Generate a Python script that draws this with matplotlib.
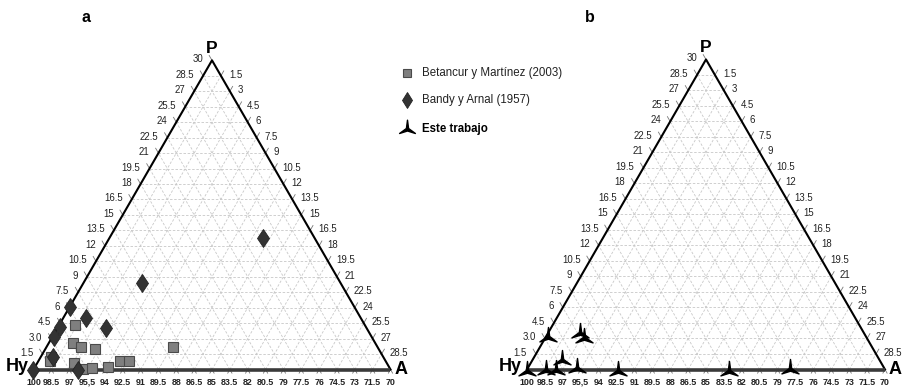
import numpy as np
import matplotlib
matplotlib.use("Agg")
import matplotlib.pyplot as plt
from matplotlib.path import Path

plt.rcParams['font.family'] = ['Liberation Sans', 'DejaVu Sans']

# ---- data (P, A in %; Hy = 100 - P - A) ----
betancur_P = [4.3, 2.6, 2.2, 2.0, 2.2, 1.2, 0.8, 0.6, 0.05, 0.15, 0.25, 0.8, 0.85]
betancur_A = [1.3, 2.0, 2.9, 4.2, 10.6, 0.9, 0.95, 3.1, 4.1, 4.8, 6.1, 6.9, 7.6]

bandy_P = [12.8, 8.4, 6.1, 5.0, 4.1, 4.0, 3.2, 1.2, 0.0, 0.0]
bandy_A = [12.9, 4.9, 0.05, 1.9, 0.15, 4.1, 0.1, 1.0, 3.7, 0.0]

este_P = [3.2, 3.6, 3.1, 1.0, 0.0, 0.05, 0.05, 0.25, 0.0, 0.0, 0.15]
este_A = [0.2, 2.6, 3.2, 2.4, 0.0, 1.6, 2.4, 4.1, 7.6, 16.9, 22.0]

bottom_labels = ['100', '98.5', '97', '95,5', '94', '92.5', '91', '89.5', '88', '86.5',
                 '85', '83.5', '82', '80.5', '79', '77.5', '76', '74.5', '73', '71.5', '70']
left_labels = ['1.5', '3.0', '4.5', '6', '7.5', '9', '10.5', '12', '13.5', '15', '16.5',
               '18', '19.5', '21', '22.5', '24', '25.5', '27', '28.5', '30']
right_labels = ['1.5', '3', '4.5', '6', '7.5', '9', '10.5', '12', '13.5', '15', '16.5',
                '18', '19.5', '21', '22.5', '24', '25.5', '27', '28.5']

RANGE = 30.0
NDIV = 20

fig = plt.figure(figsize=(9.03, 3.87), dpi=100)
ax = fig.add_axes([0, 0, 1, 1])
ax.set_xlim(0, 903)
ax.set_ylim(387, 0)
ax.axis('off')

S3 = np.sqrt(3) / 2


def make_tern(ox, oy, side):
    def f(P, A):
        P = np.asarray(P, float) / RANGE
        A = np.asarray(A, float) / RANGE
        x = ox + side * (A + P / 2)
        y = oy - side * S3 * P
        return x, y
    return f


# Este trabajo marker
este_marker = Path(
    [(0, 1.0), (-0.13, 0.0), (-0.95, -0.6), (0, -0.3), (0.95, -0.6), (0.13, 0.0), (0, 1.0)],
    [Path.MOVETO, Path.LINETO, Path.LINETO, Path.LINETO, Path.LINETO, Path.LINETO, Path.CLOSEPOLY])


def draw_triangle(ox, oy, side, label, label_x):
    T = make_tern(ox, oy, side)
    grid_kw = dict(color='#c8c8c8', lw=0.6, ls=(0, (3, 2)), zorder=1)
    step = RANGE / NDIV
    for i in range(1, NDIV):
        v = i * step
        x, y = T([v, v], [0, RANGE - v]); ax.plot(x, y, **grid_kw)
        x, y = T([0, RANGE - v], [v, v]); ax.plot(x, y, **grid_kw)
        x, y = T([0, v], [v, 0]); ax.plot(x, y, **grid_kw)
    tick_kw = dict(color='#777777', lw=0.6, zorder=1)
    L = 7 / side * RANGE
    for i in range(1, NDIV + 1):
        v = i * step
        x, y = T([v, v + L * 0.8], [0, -L * 0.8]); ax.plot(x, y, **tick_kw)
        x0, y0 = T(v, 0)
        ax.text(x0 - 9, y0 - 1, left_labels[i - 1], ha='right', va='center', fontsize=6.9, color='#222222')
    for i in range(1, NDIV):
        v = i * step
        x, y = T([RANGE - v, RANGE - v + L * 0.8], [v, v]); ax.plot(x, y, **tick_kw)
        x0, y0 = T(RANGE - v, v)
        ax.text(x0 + 8, y0 - 1, right_labels[i - 1], ha='left', va='center', fontsize=6.9, color='#222222')
    for i in range(0, NDIV + 1):
        v = i * step
        x, y = T([0, -L * 0.6], [v, v + L * 0.6]); ax.plot(x, y, **tick_kw)
        x, y = T([0, -L * 0.6], [v, v]); ax.plot(x, y, **tick_kw)
        x0, y0 = T(0, v)
        ax.text(x0, y0 + 15.5, bottom_labels[i], ha='center', va='baseline', fontsize=6.4,
                fontweight='bold', color='#222222')
    xh, yh = T(0, 0); xa, ya = T(0, RANGE); xp, yp = T(RANGE, 0)
    ax.plot([xh, xp, xa], [yh, yp, ya], color='black', lw=1.5, zorder=3)
    ax.plot([xh, xa], [yh, ya], color='#3a3a3a', lw=2.6, zorder=3, solid_capstyle='butt')
    ax.text(xp, yp - 4, 'P', ha='center', va='bottom', fontsize=12.5, fontweight='bold')
    ax.text(xh - 5, yh - 3, 'Hy', ha='right', va='center', fontsize=13, fontweight='bold')
    ax.text(xa + 4, ya, 'A', ha='left', va='center', fontsize=13, fontweight='bold')
    ax.text(label_x, 18, label, ha='center', va='center', fontsize=11.5, fontweight='bold')
    return T


Ta = draw_triangle(33.5, 369.5, 357, 'a', 86)
Tb = draw_triangle(527, 369.5, 358, 'b', 590)

x, y = Ta(betancur_P, betancur_A)
ax.plot(x, y, ls='none', marker='s', ms=7.2, mfc='#7f7f7f', mec='#4a4a4a', mew=0.8, zorder=5)
x, y = Ta(bandy_P, bandy_A)
ax.plot(x, y, ls='none', marker='d', ms=9.5, mfc='#333333', mec='#222222', mew=0.6, zorder=6)
x, y = Tb(este_P, este_A)
ax.plot(x, y, ls='none', marker=este_marker, ms=13, mfc='black', mec='black', zorder=6)

# legend
ax.plot([407], [73], ls='none', marker='s', ms=6, mfc='#7f7f7f', mec='#4a4a4a', mew=0.8)
ax.text(422, 73, 'Betancur y Martínez (2003)', ha='left', va='center', fontsize=8.3, color='#222222')
ax.plot([407], [100], ls='none', marker='d', ms=8, mfc='#333333', mec='#222222', mew=0.6)
ax.text(422, 100, 'Bandy y Arnal (1957)', ha='left', va='center', fontsize=8.3, color='#222222')
ax.plot([407], [128], ls='none', marker=este_marker, ms=12, mfc='black', mec='black')
ax.text(422, 129, 'Este trabajo', ha='left', va='center', fontsize=8.3, fontweight='bold')

fig.savefig('out.png', dpi=100)
